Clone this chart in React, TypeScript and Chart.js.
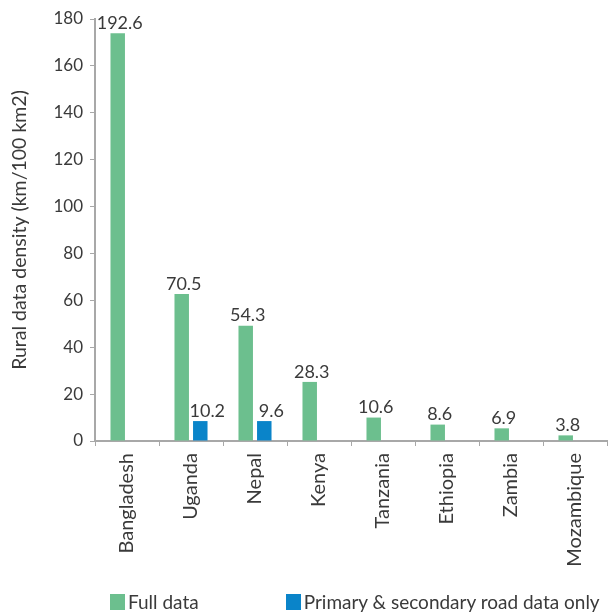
import React, { useEffect, useRef } from 'react';
import { Chart, registerables } from 'chart.js';

Chart.register(...registerables);

const categories = ['Bangladesh', 'Uganda', 'Nepal', 'Kenya', 'Tanzania', 'Ethiopia', 'Zambia', 'Mozambique'];
const fullData = [173.9, 62.7, 49.2, 25.2, 10.0, 7.0, 5.4, 2.4];
const primaryData = [null, 8.5, 8.5, null, null, null, null, null];
const fullLabels = ['192.6', '70.5', '54.3', '28.3', '10.6', '8.6', '6.9', '3.8'];
const primaryLabels = [null, '10.2', '9.6', null, null, null, null, null];
const seriesNames = ['Full data', 'Primary & secondary road data only'];
const yTicks = [0, 20, 40, 60, 80, 100, 120, 140, 160, 180];
const yTitle = 'Rural data density (km/100 km2)';

const FONT = "Lato, 'Open Sans', sans-serif";
const WEIGHT = 400;
const TEXT = '#3a3a3a';
const AXIS = '#a8a8a8';
const GREEN = '#6cbf8e';
const BLUE = '#0a84c9';
const COLORS = [GREEN, BLUE];

const valueLabels = {
  id: 'valueLabels',
  afterDatasetsDraw(chart: any) {
    const ctx = chart.ctx;
    const sets = [fullLabels, primaryLabels];
    chart.data.datasets.forEach((_ds: any, di: number) => {
      const meta = chart.getDatasetMeta(di);
      meta.data.forEach((bar: any, i: number) => {
        const t = sets[di][i];
        if (t == null) return;
        ctx.save();
        ctx.font = `${WEIGHT} 18px ${FONT}`;
        ctx.fillStyle = TEXT;
        ctx.textAlign = 'center';
        ctx.textBaseline = 'bottom';
        ctx.fillText(t, bar.x + (di === 1 ? 7 : 2), bar.y - 1);
        ctx.restore();
      });
    });
  },
};

export default function App() {
  const ref = useRef<HTMLCanvasElement | null>(null);
  useEffect(() => {
    if (!ref.current) return;
    const chart = new Chart(ref.current, {
      type: 'bar',
      data: {
        labels: categories,
        datasets: [
          {
            label: seriesNames[0],
            data: fullData,
            backgroundColor: GREEN,
            barPercentage: 0.78,
            categoryPercentage: 0.58,
          },
          {
            label: seriesNames[1],
            data: primaryData as any,
            backgroundColor: BLUE,
            barPercentage: 0.78,
            categoryPercentage: 0.58,
          },
        ],
      },
      options: {
        responsive: false,
        animation: false,
        layout: { padding: { top: 19, right: 3, left: 0, bottom: 45 } },
        plugins: {
          tooltip: { enabled: false },
          legend: { display: false },
        },
        scales: {
          x: {
            afterFit: (axis: any) => {
              axis.height = 130;
            },
            border: { display: true, color: AXIS, width: 2 },
            grid: { display: true, offset: true, drawOnChartArea: false, drawTicks: true, tickLength: 5, color: AXIS, lineWidth: 1 },
            ticks: {
              maxRotation: 90,
              minRotation: 90,
              color: TEXT,
              padding: 7,
              font: { family: FONT, size: 20, weight: WEIGHT as any },
            },
          },
          y: {
            min: 0,
            max: 180,
            afterBuildTicks: (axis: any) => {
              axis.ticks = yTicks.map((v) => ({ value: v }));
            },
            afterFit: (axis: any) => {
              axis.width = 95;
            },
            border: { display: true, color: AXIS, width: 2 },
            grid: { display: true, drawOnChartArea: false, drawTicks: true, tickLength: 5, color: AXIS, lineWidth: 1 },
            ticks: {
              color: TEXT,
              padding: 7,
              font: { family: FONT, size: 17, weight: WEIGHT as any },
            },
            title: {
              display: true,
              text: yTitle,
              color: TEXT,
              padding: { top: 8, bottom: 0 },
              font: { family: FONT, size: 19.5, weight: WEIGHT as any },
            },
          },
        },
      },
      plugins: [valueLabels],
    });
    return () => chart.destroy();
  }, []);

  const legendText: React.CSSProperties = {
    fontFamily: FONT,
    fontWeight: WEIGHT,
    fontSize: 19,
    color: TEXT,
    marginLeft: 3,
    lineHeight: '18px',
    whiteSpace: 'nowrap',
  };

  return (
    <div style={{ position: 'fixed', left: 0, top: 0, width: 610, height: 616, background: '#fff' }}>
      <canvas ref={ref} width={610} height={616} style={{ display: 'block' }} />
      <div style={{ position: 'absolute', left: 110, top: 593, display: 'flex', alignItems: 'center' }}>
        {seriesNames.map((name, i) => (
          <div key={name} style={{ display: 'flex', alignItems: 'center', marginLeft: i === 0 ? 0 : 87 }}>
            <span style={{ display: 'inline-block', width: 15, height: 16, background: COLORS[i] }} />
            <span style={legendText}>{name}</span>
          </div>
        ))}
      </div>
    </div>
  );
}
